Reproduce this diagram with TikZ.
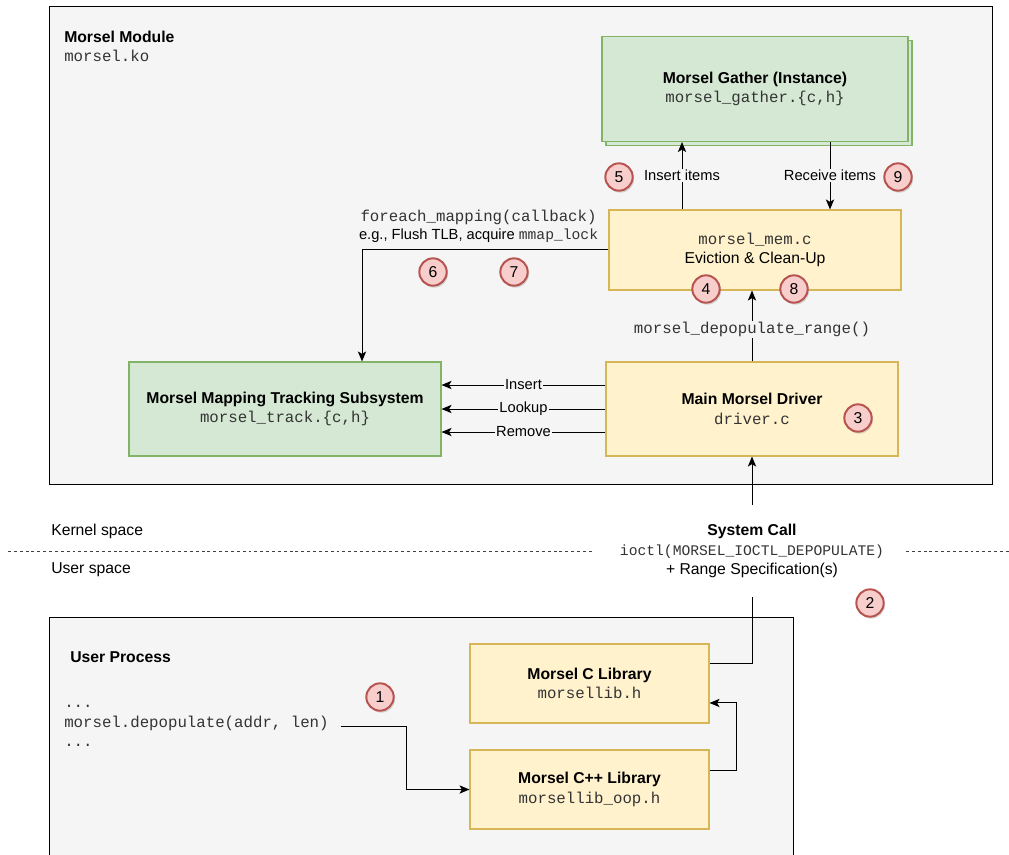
\documentclass[tikz,border=0pt]{standalone}
\usepackage{fontspec}
\setmainfont{Liberation Sans}
\setmonofont{Liberation Mono}
\usepackage{tikz}
\usetikzlibrary{calc,positioning,arrows.meta,shadows}
\definecolor{modfill}{HTML}{F5F5F5}
\definecolor{greenfill}{HTML}{D5E8D4}
\definecolor{greenline}{HTML}{82B366}
\definecolor{yellowfill}{HTML}{FFF2CC}
\definecolor{yellowline}{HTML}{D6B656}
\definecolor{badgefill}{HTML}{F8CECC}
\definecolor{badgeline}{HTML}{B85450}
\definecolor{codegray}{HTML}{333333}
\newcommand{\mainsize}{\fontsize{11.8}{14.8}\selectfont}
\newcommand{\smallsize}{\fontsize{11}{14}\selectfont}
\newcommand{\code}[1]{{\ttfamily\color{codegray}#1}}
\tikzset{
  module/.style={draw=black,fill=modfill,line width=0.75pt},
  greenbox/.style={draw=greenline,fill=greenfill,line width=0.8pt,align=center,font=\mainsize},
  yellowbox/.style={draw=yellowline,fill=yellowfill,line width=0.8pt,align=center,font=\mainsize},
  badge/.style={circle,draw=badgeline,fill=badgefill,line width=1.5pt,minimum size=20.5pt,inner sep=0pt,font=\mainsize,
    drop shadow={shadow xshift=1pt,shadow yshift=-1.5pt,opacity=0.3}},
  conn/.style={draw=black,line width=0.75pt},
  arr/.style={conn,-{Stealth[length=7.5pt,width=6.2pt,inset=1.8pt]}},
  lbl/.style={fill=modfill,inner sep=1pt,font=\smallsize},
  sep/.style={draw=black!75,line width=0.75pt,dash pattern=on 2.2pt off 2.2pt},
}
\begin{document}
\begin{tikzpicture}[x=0.75pt,y=-0.75pt]
\useasboundingbox (0,0) rectangle (1009,855);
% kernel module
\draw[module] (49,7) rectangle (992,484);
\node[anchor=west,inner sep=0,font=\mainsize\bfseries] (modname) at (64,37) {Morsel Module};
\node[anchor=west,inner sep=0,font=\mainsize] (modfile) at (64,56) {\code{morsel.ko}};

\node[greenbox,copy shadow={shadow xshift=3pt,shadow yshift=-3pt},minimum width=229.5pt,minimum height=78.75pt] (gather) at (755,89)
  {\textbf{Morsel Gather (Instance)}\\\code{morsel\_gather.\{c,h\}}};
\node[yellowbox,minimum width=219pt,minimum height=60pt] (mem) at (755,250)
  {\code{morsel\_mem.c}\\Eviction \& Clean-Up};
\node[greenbox,minimum width=234pt,minimum height=70.5pt] (track) at (285,409)
  {\textbf{Morsel Mapping Tracking Subsystem}\\\code{morsel\_track.\{c,h\}}};
\node[yellowbox,minimum width=219pt,minimum height=70.5pt] (driver) at (752,409)
  {\textbf{Main Morsel Driver}\\\code{driver.c}};

\coordinate (insx) at (682,0);
\coordinate (rcvx) at (830,0);
\coordinate (fex) at (362,0);
\draw[arr] (mem.north -| insx) -- node[lbl]{Insert items} (gather.south -| insx);
\draw[arr] (gather.south -| rcvx) -- node[lbl]{Receive items} (mem.north -| rcvx);
\draw[arr] (mem.west) -| node[pos=0.25,above=5pt,xshift=-5pt,align=center,inner sep=0,font=\smallsize]
  {{\mainsize\code{foreach\_mapping(callback)}}\\e.g., Flush TLB, acquire \code{mmap\_lock}} (track.north -| fex);
\draw[arr] (driver.north) -- node[lbl,pos=0.45,font=\mainsize]{\code{morsel\_depopulate\_range()}} (driver.north |- mem.south);
\foreach \op/\dy in {Insert/-24,Lookup/0,Remove/23}
  \draw[arr] ($(driver.west)+(0,\dy)$) -- node[lbl]{\op} ($(track.east)+(0,\dy)$);

% boundary
\node[anchor=west,inner sep=0,font=\mainsize] (kspace) at (51,531) {Kernel space};
\node[anchor=west,inner sep=0,font=\mainsize] (uspace) at (51,570) {User space};
\draw[sep] (8,551) -- (594,551);
\draw[sep] (906,551) -- (1009,551);
\node[font=\mainsize,align=center,inner ysep=14pt] (syscall) at (752,551)
  {\textbf{System Call}\\{\fontsize{11}{14.8}\selectfont\code{ioctl(MORSEL\_IOCTL\_DEPOPULATE)}}\\+ Range Specification(s)};

% user process
\begin{scope}
\clip (0,0) rectangle (1009,855);
\draw[module] (49,617) rectangle (793,870);
\end{scope}
\node[anchor=west,inner sep=0,font=\mainsize\bfseries] (upname) at (70,657) {User Process};
\node[yellowbox,minimum width=179.25pt,minimum height=59.25pt] (clib) at (589.5,683.5)
  {\textbf{Morsel C Library}\\\code{morsellib.h}};
\node[yellowbox,minimum width=179.25pt,minimum height=59.25pt] (cpplib) at (589.5,789.5)
  {\textbf{Morsel C++ Library}\\\code{morsellib\_oop.h}};
\node[anchor=west,align=left,inner sep=0,font=\mainsize\ttfamily\color{codegray}] (code) at (64,726)
  {...\\morsel.depopulate(addr, len)\\...};

\draw[arr] ([xshift=9pt]code.east) -- ++(66,0) |- (cpplib.west);
\draw[arr] ([yshift=14.6pt]cpplib.east) -- ++(27,0) |- ([yshift=-14.6pt]clib.east);
\draw[conn] (syscall.south) |- ([yshift=15pt]clib.east);
\draw[arr] (syscall.north) -- (driver.south);

\foreach \n/\x/\y in {1/380/697,2/870/603,3/858/418,4/706/289,5/619/177,6/433/272,7/514/272,8/794/289,9/898/177}
  \node[badge] (b\n) at (\x,\y) {\n};
\end{tikzpicture}
\end{document}
